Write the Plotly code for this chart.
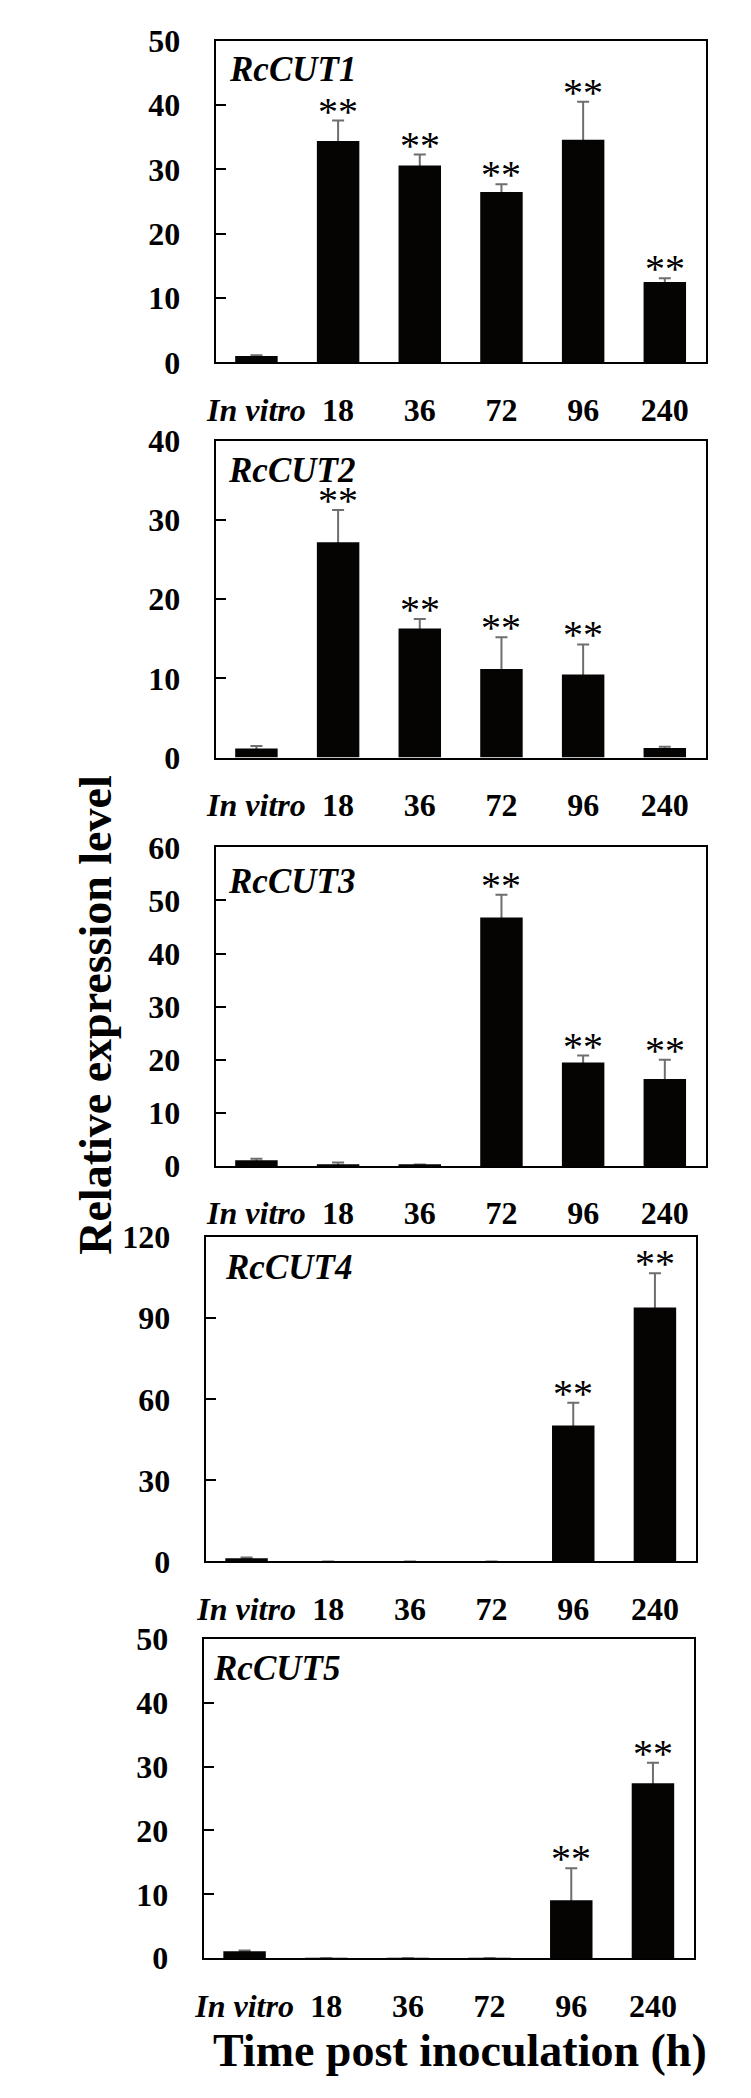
import plotly.graph_objects as go

W, H = 751, 2098

categories = ["In vitro", "18", "36", "72", "96", "240"]
tick_text = ["<i>In vitro</i>", "18", "36", "72", "96", "240"]

genes = ["RcCUT1", "RcCUT2", "RcCUT3", "RcCUT4", "RcCUT5"]

cut1_mean = [1.0, 34.4, 30.6, 26.5, 34.6, 12.5]
cut1_sd = [0.1, 3.2, 1.7, 1.2, 5.9, 0.6]
cut1_sig = ["", "**", "**", "**", "**", "**"]

cut2_mean = [1.15, 27.2, 16.3, 11.2, 10.5, 1.2]
cut2_sd = [0.3, 4.1, 1.2, 4.0, 3.8, 0.15]
cut2_sig = ["", "**", "**", "**", "**", ""]

cut3_mean = [1.1, 0.37, 0.2, 46.8, 19.5, 16.4]
cut3_sd = [0.3, 0.3, 0.1, 4.3, 1.3, 3.6]
cut3_sig = ["", "", "", "**", "**", "**"]

cut4_mean = [1.2, 0.02, 0.02, 0.02, 50.3, 94.0]
cut4_sd = [0.3, 0.0, 0.0, 0.0, 8.4, 12.6]
cut4_sig = ["", "", "", "", "**", "**"]

cut5_mean = [1.08, 0.02, 0.02, 0.02, 9.1, 27.4]
cut5_sd = [0.15, 0.0, 0.0, 0.0, 5.0, 3.2]
cut5_sig = ["", "", "", "", "**", "**"]

y_max = [50, 40, 60, 120, 50]
y_dtick = [10, 10, 10, 30, 10]

means = [cut1_mean, cut2_mean, cut3_mean, cut4_mean, cut5_mean]
sds = [cut1_sd, cut2_sd, cut3_sd, cut4_sd, cut5_sd]
sigs = [cut1_sig, cut2_sig, cut3_sig, cut4_sig, cut5_sig]

# panel boxes in pixels: (left, right, top, bottom)
boxes = [
    (201, 697, 15, 342.3),
    (201, 697, 422.3, 744.3),
    (201, 697, 835.7, 1160),
    (191, 687, 1232.3, 1562.3),
    (189, 685, 1641, 1966),
]
label_pos = [(212.7, 44), (211.7, 452), (211.7, 870), (208, 1263), (196.7, 1671)]

FONT = "Liberation Serif"
BAR = "#060303"
ERR = "#6e6e6e"

fig = go.Figure()
layout = dict(
    width=W, height=H,
    margin=dict(l=0, r=0, t=0, b=0),
    paper_bgcolor="white", plot_bgcolor="white",
    showlegend=False, barmode="overlay",
    font=dict(family=FONT, color="black"),
)
annotations = []

for i in range(5):
    n = "" if i == 0 else str(i + 1)
    xa, ya = "x" + n, "y" + n
    l, r, t, b = boxes[i]
    # error bars (hidden bars), then black bars on top to hide the lower whisker
    fig.add_trace(go.Bar(
        x=categories, y=means[i], xaxis=xa, yaxis=ya, width=0.52,
        marker=dict(color="rgba(0,0,0,0)", line=dict(width=0)),
        error_y=dict(type="data", array=sds[i], symmetric=True,
                     color=ERR, thickness=2, width=6),
        hoverinfo="skip",
    ))
    fig.add_trace(go.Bar(
        x=categories, y=means[i], xaxis=xa, yaxis=ya, width=0.52,
        marker=dict(color=BAR, line=dict(width=0)),
    ))
    layout["xaxis" + n] = dict(
        domain=[l / W, r / W], anchor=ya,
        type="category", categoryorder="array", categoryarray=categories,
        range=[-0.5, 5.5],
        tickmode="array", tickvals=categories, ticktext=tick_text,
        tickfont=dict(family=FONT, size=32, color="black", weight="bold"),
        ticks="", ticklabelstandoff=18,
        showline=True, linecolor="black", linewidth=2, mirror=True,
        showgrid=False, zeroline=False, fixedrange=True,
    )
    layout["yaxis" + n] = dict(
        domain=[1 - b / H, 1 - t / H], anchor=xa,
        range=[0, y_max[i]], dtick=y_dtick[i], tick0=0,
        tickfont=dict(family=FONT, size=32, color="black", weight="bold"),
        ticks="inside", ticklen=10, tickwidth=1.5, tickcolor="black",
        ticklabelstandoff=27,
        showline=True, linecolor="black", linewidth=2, mirror=True,
        showgrid=False, zeroline=False, fixedrange=True,
    )
    lx, ly = label_pos[i]
    annotations.append(dict(
        text="<b><i>%s</i></b>" % genes[i], xref="paper", yref="paper",
        x=lx / W, y=1 - ly / H, xanchor="left", yanchor="middle",
        showarrow=False, font=dict(family=FONT, size=35, color="black"),
    ))
    for j, (m, s, g) in enumerate(zip(means[i], sds[i], sigs[i])):
        if g:
            annotations.append(dict(
                text=g, xref=xa, yref=ya, x=j, y=m + s,
                xanchor="center", yanchor="bottom", yshift=-15,
                showarrow=False, font=dict(family=FONT, size=40, color="black"),
            ))

annotations.append(dict(
    text="<b>Relative expression level</b>", xref="paper", yref="paper",
    x=80 / W, y=1 - 1006 / H, xanchor="center", yanchor="middle", textangle=-90,
    showarrow=False, font=dict(family=FONT, size=46, color="black"),
))
annotations.append(dict(
    text="<b>Time post inoculation (h)</b>", xref="paper", yref="paper",
    x=448 / W, y=1 - 2060 / H, xanchor="center", yanchor="middle",
    showarrow=False, font=dict(family=FONT, size=46, color="black"),
))

layout["annotations"] = annotations
fig.update_layout(**layout)
fig.write_html("out.html")
